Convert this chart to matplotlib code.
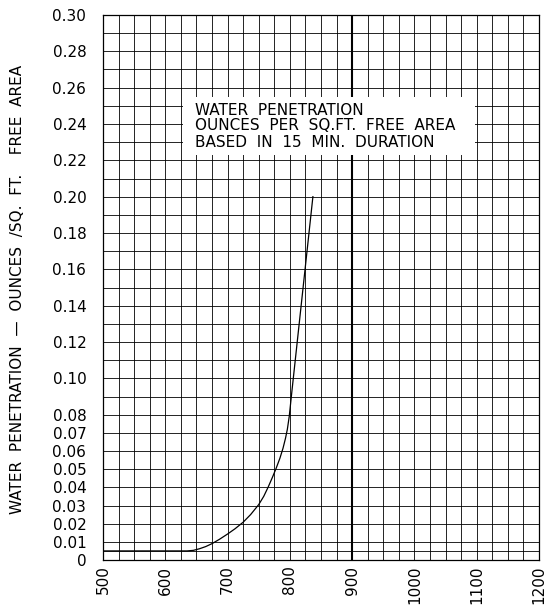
import numpy as np
import matplotlib
matplotlib.use("Agg")
import matplotlib.pyplot as plt
from matplotlib.patches import Rectangle

# chart data
flow = [500, 635, 645, 655, 665, 675, 687, 700, 712, 725, 737, 750, 758,
        765, 772, 778, 784, 789, 793, 796, 799, 803, 837]
penetration = [0.005, 0.005, 0.0053, 0.0062, 0.0074, 0.0090, 0.0114, 0.0143,
               0.0172, 0.0208, 0.0250, 0.0305, 0.0350, 0.0400, 0.0455, 0.0505,
               0.0560, 0.0615, 0.0670, 0.0720, 0.0790, 0.0920, 0.200]

x_ticks = [500, 600, 700, 800, 900, 1000, 1100, 1200]
y_ticks = [0, 0.01, 0.02, 0.03, 0.04, 0.05, 0.06, 0.07, 0.08,
           0.10, 0.12, 0.14, 0.16, 0.18, 0.20, 0.22, 0.24, 0.26, 0.28, 0.30]
y_labels = ["0", "0.01", "0.02", "0.03", "0.04", "0.05", "0.06", "0.07", "0.08",
            "0.10", "0.12", "0.14", "0.16", "0.18", "0.20", "0.22", "0.24",
            "0.26", "0.28", "0.30"]

note_lines = ["WATER  PENETRATION",
              "OUNCES  PER  SQ.FT.  FREE  AREA",
              "BASED  IN  15  MIN.  DURATION"]
y_title = "WATER  PENETRATION  \u2014  OUNCES  /SQ.  FT.    FREE  AREA"

plt.rcParams["font.family"] = ["DejaVu Sans"]

fig = plt.figure(figsize=(5.48, 6.08), dpi=100)
ax = fig.add_axes([103 / 548, 48 / 608, 436 / 548, 545 / 608])

# grid every 25 units across, every 0.01 up, plus the 0.005 line
for gx in np.arange(500, 1201, 25):
    lw = 1.5 if gx == 900 else 0.6
    ax.axvline(gx, color="black", lw=lw, zorder=1)
for gy in np.arange(0, 0.301, 0.01):
    ax.axhline(gy, color="black", lw=0.6, zorder=1)
ax.axhline(0.005, color="black", lw=0.6, zorder=1)

# white note box over the grid
ax.add_patch(Rectangle((628, 0.223), 1097 - 628, 0.255 - 0.223,
                       facecolor="white", edgecolor="none", zorder=2))
for line, yb in zip(note_lines, [0.2452, 0.2365, 0.2272]):
    ax.text(648, yb, line, fontsize=11, va="baseline", ha="left", zorder=3)

ax.plot(flow, penetration, color="black", lw=0.9, zorder=4)

ax.set_xlim(500, 1200)
ax.set_ylim(0, 0.30)
ax.set_xticks(x_ticks)
ax.set_xticklabels([str(v) for v in x_ticks], rotation=90, fontsize=11)
ax.set_yticks(y_ticks)
ax.set_yticklabels(y_labels, fontsize=11)
ax.tick_params(axis="both", length=0)
ax.tick_params(axis="x", pad=4)
ax.tick_params(axis="y", pad=12)
for s in ax.spines.values():
    s.set_linewidth(0.9)

fig.text(18 / 548, 1 - 289 / 608, y_title, rotation=90, fontsize=11,
         ha="center", va="center")

fig.savefig("out.png", dpi=100)
